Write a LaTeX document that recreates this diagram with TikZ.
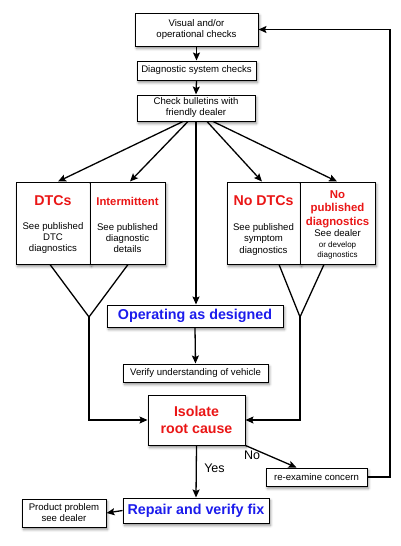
\documentclass[tikz,border=0pt]{standalone}
\usepackage{fontspec}
\setmainfont{Liberation Sans}
\usetikzlibrary{arrows.meta,shadows,shadows.blur,calc}
\definecolor{fred}{RGB}{234,22,22}
\definecolor{fblue}{RGB}{28,28,236}
\begin{document}
\begin{tikzpicture}[x=1pt,y=-1pt,
  box/.style={draw, line width=1pt, fill=white, inner sep=0pt, align=center,
    font=\fontsize{9.6}{11}\selectfont,
    blur shadow={shadow xshift=1.5pt, shadow yshift=-2.5pt, shadow blur radius=2.5pt, shadow opacity=45}},
  conn/.style={line width=1.3pt, -{Stealth[length=8pt,width=7pt,inset=1.5pt]}},
  plain/.style={line width=1.3pt},
  bigred/.style={font=\fontsize{14.2}{17.5}\selectfont\bfseries, text=fred, align=center},
  midred/.style={font=\fontsize{11.4}{13.5}\selectfont\bfseries, text=fred, align=center},
  bigblue/.style={font=\fontsize{14.3}{16}\selectfont\bfseries, text=fblue},
  small/.style={font=\fontsize{9.6}{11}\selectfont, align=center},
  tiny/.style={font=\fontsize{8}{10}\selectfont, align=center},
  lbl/.style={font=\fontsize{12.5}{14}\selectfont}]
\useasboundingbox (0,0) rectangle (400,546);

% boxes
\node[box, minimum width=123pt, minimum height=33pt] (v) at (196.5,29.5) {Visual and/or\\operational checks};
\node[box, minimum width=119pt, minimum height=19pt] (d) at (196.5,70.5) {Diagnostic system checks};
\node[box, minimum width=118pt, minimum height=26pt] (c) at (196,108) {Check bulletins with\\friendly dealer};

\node[box, minimum width=74pt, minimum height=82pt] (l1) at (53,223) {};
\node[box, minimum width=75pt, minimum height=82pt] (l2) at (127.5,223) {};
\node[box, minimum width=73pt, minimum height=82pt] (r1) at (263.5,223) {};
\node[box, minimum width=75pt, minimum height=82pt] (r2) at (337.5,223) {};

\node[bigred] (t1) at (53,201) {DTCs};
\node[small] (t1b) at (53,238) {See published\\DTC\\diagnostics};
\node[midred, font=\fontsize{11.3}{13}\selectfont\bfseries] (t2) at (127.5,201) {Intermittent};
\node[small] (t2b) at (127.5,238) {See published\\diagnostic\\details};
\node[bigred] (t3) at (263.5,201) {No DTCs};
\node[small, font=\fontsize{9.6}{11.5}\selectfont] (t3b) at (263.5,239.5) {See published\\symptom\\diagnostics};
\node[midred] (t4) at (337.5,209) {No\\published\\diagnostics};
\node[small] (t4b) at (337.5,233) {See dealer};
\node[tiny] (t4c) at (337.5,250) {or develop\\diagnostics};

\node[box, bigblue, minimum width=176pt, minimum height=22pt] (op) at (195,316) {Operating as designed};
\node[box, minimum width=145pt, minimum height=18pt] (vu) at (195.5,373) {Verify understanding of vehicle};
\node[box, bigred, minimum width=97pt, minimum height=50pt] (iso) at (196.5,420) {Isolate\\root cause};
\node[box, minimum width=101pt, minimum height=18pt] (re) at (316.5,477) {re-examine concern};
\node[box, bigblue, minimum width=146pt, minimum height=25pt] (rep) at (196,510.5) {Repair and verify fix};
\node[box, minimum width=84pt, minimum height=28pt] (pp) at (64,513) {Product problem\\see dealer};

% connectors
\draw[conn] (v.south) -- (d.north);
\draw[conn] (d.south) -- (c.north);
\draw[conn] ([xshift=-13pt]c.south) -- ([xshift=5pt]l1.north);
\draw[conn] ([xshift=-8pt]c.south) -- ([xshift=2.5pt]l2.north);
\draw[conn] (c.south) -- (c.south |- op.north);
\draw[conn] ([xshift=11pt]c.south) -- ([xshift=-1.5pt]r1.north);
\draw[conn] ([xshift=17pt]c.south) -- ([xshift=-0.5pt]r2.north);

\coordinate (yl) at (89,317);
\coordinate (yr) at (300,317);
\draw[plain] ([xshift=-3pt]l1.south) -- (yl) -- ([xshift=0.5pt]l2.south);
\draw[plain] ([xshift=15.5pt]r1.south) -- (yr) -- ([xshift=-13.5pt]r2.south);
\draw[conn] (yl) |- (iso.west);
\draw[conn] (yr) |- (iso.east);

\draw[conn] (op.south) -- (vu.north);
\draw[conn] (iso.south) -- (rep.north) node[lbl, pos=0.43, anchor=west, xshift=4pt] {Yes};
\draw[conn] (iso.south east) -- ([xshift=-20pt]re.north);
\node[lbl] (no) at (252,455) {No};
\draw[conn] (rep.west) -- (pp.east);

\coordinate (lp) at (390,0);
\draw[conn] (re.east) -- (re.east -| lp) |- (v.east);
\end{tikzpicture}
\end{document}
